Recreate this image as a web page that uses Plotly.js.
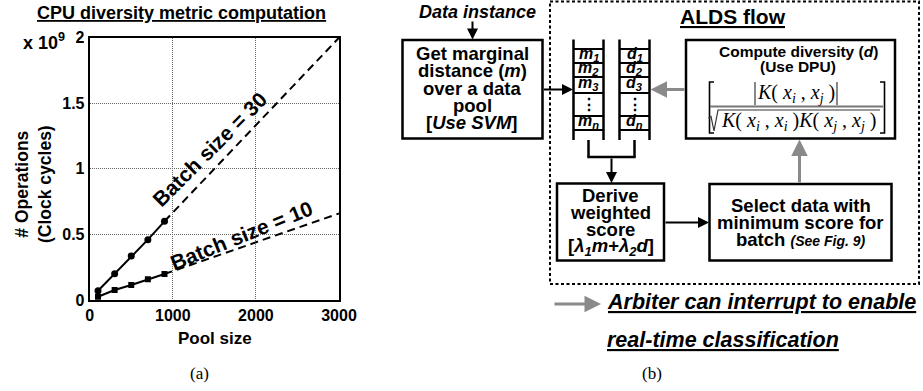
<!DOCTYPE html>
<html><head><meta charset="utf-8">
<script src="https://cdn.plot.ly/plotly-3.0.1.min.js"></script>
<style>html,body{margin:0;padding:0;background:#fff;}#chart{width:923px;height:391px;}</style>
</head><body><div id="chart"></div>
<script>
// ---- chart data (panel a) ----
const poolSize = [100, 300, 500, 700, 900];
const opsBatch30 = [0.07, 0.2, 0.335, 0.46, 0.6];
const opsBatch10 = [0.025, 0.076, 0.114, 0.158, 0.198];
const projPool = [900, 3000];
const projBatch30 = [0.6, 2.0];
const projBatch10 = [0.198, 0.66];
const xTicks = [0, 1000, 2000, 3000];
const yTicks = [0, 0.5, 1, 1.5, 2];
const yTickText = ['0', '0.5', '1', '1.5', '2'];

const W = 923, H = 391;
const SANS = 'Liberation Sans, Arial, sans-serif';
const SERIF = 'Liberation Serif, Times New Roman, serif';
const GRAY = '#8a8a8a';
function X(p){ return p / W; }
function Y(p){ return 1 - p / H; }

const traces = [
  {x: poolSize, y: opsBatch30, mode: 'lines+markers', line: {color: '#000', width: 2},
   marker: {symbol: 'circle', size: 7, color: '#000'}, hoverinfo: 'skip'},
  {x: poolSize, y: opsBatch10, mode: 'lines+markers', line: {color: '#000', width: 2},
   marker: {symbol: 'square', size: 6, color: '#000'}, hoverinfo: 'skip'},
  {x: projPool, y: projBatch30, mode: 'lines', line: {color: '#000', width: 2, dash: '8px,5px'}, hoverinfo: 'skip'},
  {x: projPool, y: projBatch10, mode: 'lines', line: {color: '#000', width: 2, dash: '8px,5px'}, hoverinfo: 'skip'}
];

function T(x, y, text, size, o){
  o = o || {};
  const f = {family: o.family || SANS, size: size, color: o.color || '#000'};
  if (o.under) f.lineposition = 'under';
  return {xref: 'paper', yref: 'paper', x: X(x), y: Y(y), text: text, showarrow: false,
    xanchor: o.xanchor || 'center', yanchor: 'middle', font: f, textangle: o.angle || 0};
}
function TD(x, y, text, size, angle){
  return {xref: 'x', yref: 'y', x: x, y: y, text: text, showarrow: false,
    xanchor: 'center', yanchor: 'middle', font: {family: SANS, size: size, color: '#000'}, textangle: angle};
}
function A(x0, y0, x1, y1, color, w){
  return {xref: 'paper', yref: 'paper', x: X(x1), y: Y(y1), ax: x0 - x1, ay: y0 - y1,
    axref: 'pixel', ayref: 'pixel', text: '', showarrow: true, arrowhead: 2, arrowsize: 1.1,
    arrowwidth: w, arrowcolor: color, standoff: 0, startstandoff: 0};
}
function R(x0, y0, x1, y1, w, dash){
  return {type: 'rect', xref: 'paper', yref: 'paper', x0: X(x0), y0: Y(y0), x1: X(x1), y1: Y(y1),
    line: {color: '#000', width: w, dash: dash || 'solid'}, fillcolor: 'rgba(0,0,0,0)'};
}
function L(x0, y0, x1, y1, w, color){
  return {type: 'line', xref: 'paper', yref: 'paper', x0: X(x0), y0: Y(y0), x1: X(x1), y1: Y(y1),
    line: {color: color || '#000', width: w}};
}
function P(pts, w, color){
  let d = '';
  pts.forEach((p, i) => { d += (i ? ' L' : 'M') + X(p[0]).toFixed(5) + ',' + Y(p[1]).toFixed(5); });
  return {type: 'path', xref: 'paper', yref: 'paper', path: d, line: {color: color || '#000', width: w}};
}

const shapes = [];
shapes.push(R(550, 1.5, 919, 284, 2, '3px,2.5px'));
shapes.push(R(402.5, 40, 542.5, 138.5, 2.5));
[573.5, 603.5, 619.5, 649.5].forEach(x => shapes.push(L(x, 39.5, x, 140, 2.5)));
[49, 63, 77, 93, 116, 130].forEach(y => { shapes.push(L(573.5, y, 603.5, y, 2)); shapes.push(L(619.5, y, 649.5, y, 2)); });
shapes.push(L(588.5, 140, 588.5, 157, 2.5));
shapes.push(L(634.5, 140, 634.5, 157, 2.5));
shapes.push(L(587.3, 157, 635.7, 157, 2.5));
shapes.push(R(557, 183.5, 664, 260.5, 2.5));
shapes.push(R(709.5, 184, 891.5, 260.5, 2.5));
shapes.push(R(686, 40, 895, 138.5, 2.5));
shapes.push(P([[714, 82], [709.5, 82], [709.5, 133], [714, 133]], 1.6));
shapes.push(P([[880, 82], [884.5, 82], [884.5, 133], [880, 133]], 1.6));
shapes.push(L(755, 82, 755, 105, 1.4, '#555'));
shapes.push(L(837, 82, 837, 105, 1.4, '#555'));
shapes.push(L(710, 106.5, 883, 106.5, 2, '#777'));
shapes.push(P([[708.5, 118], [711, 116.5], [714, 131], [718, 110], [880, 110]], 1.2, '#333'));

const annotations = [
  T(181, 13, '<b>CPU diversity metric computation</b>', 18, {under: true}),
  T(44, 41, '<b>x 10<sup>9</sup></b>', 18),
  T(33, 184, '<b># Operations<br>(Clock cycles)</b>', 17.5, {angle: -90}),
  T(215, 338, '<b>Pool size</b>', 17),
  T(199, 373, '(a)', 17, {family: SERIF}),
  TD(1440, 1.15, '<b>Batch size = 30</b>', 21, -45),
  TD(1823, 0.49, '<b>Batch size = 10</b>', 21, -22),
  T(478, 12, '<b><i>Data instance</i></b>', 18),
  T(472.5, 53, '<b>Get marginal</b>', 18.5),
  T(472.5, 70.5, '<b>distance (<i>m</i>)</b>', 18.5),
  T(472.5, 88, '<b>over a data</b>', 18.5),
  T(472.5, 105.5, '<b>pool</b>', 18.5),
  T(472.5, 122, '<b>[<i>Use SVM</i>]</b>', 18.5),
  T(733, 17, '<b>ALDS flow</b>', 21, {under: true}),
  T(588.5, 54.5, '<b><i>m<sub>1</sub></i></b>', 16),
  T(588.5, 68.5, '<b><i>m<sub>2</sub></i></b>', 16),
  T(588.5, 83, '<b><i>m<sub>3</sub></i></b>', 16),
  T(588.5, 104.5, '<b>⋮</b>', 16),
  T(588.5, 121.5, '<b><i>m<sub>n</sub></i></b>', 16),
  T(634.5, 54.5, '<b><i>d<sub>1</sub></i></b>', 16),
  T(634.5, 68.5, '<b><i>d<sub>2</sub></i></b>', 16),
  T(634.5, 83, '<b><i>d<sub>3</sub></i></b>', 16),
  T(634.5, 104.5, '<b>⋮</b>', 16),
  T(634.5, 121.5, '<b><i>d<sub>n</sub></i></b>', 16),
  T(610.5, 195, '<b>Derive</b>', 18.5),
  T(610.5, 212, '<b>weighted</b>', 18.5),
  T(610.5, 229.5, '<b>score</b>', 18.5),
  T(610.5, 247.5, '<b>[<i>λ<sub>1</sub>m</i>+<i>λ<sub>2</sub>d</i>]</b>', 18.5),
  T(800.5, 205, '<b>Select data with</b>', 18.5),
  T(800.5, 222, '<b>minimum score for</b>', 18.5),
  T(800.5, 239, '<b>batch <i><span style="font-size:14px">(See Fig. 9)</span></i></b>', 18.5),
  T(798, 51.5, '<b>Compute diversity (<i>d</i>)</b>', 15.5),
  T(798, 66.5, '<b>(Use DPU)</b>', 15.5),
  T(796, 93, '<i>K</i>( <i>x<sub>i</sub></i> , <i>x<sub>j</sub></i> )', 20, {family: SERIF}),
  T(799, 121, '<i>K</i>( <i>x<sub>i</sub></i> , <i>x<sub>i</sub></i> )<i>K</i>( <i>x<sub>j</sub></i> , <i>x<sub>j</sub></i> )', 20, {family: SERIF}),
  T(605, 302, '<b><i>Arbiter can interrupt to enable</i></b>', 21.5, {under: true, xanchor: 'left'}),
  T(605, 340, '<b><i>real-time classification</i></b>', 21.5, {under: true, xanchor: 'left'}),
  T(652, 373, '(b)', 17, {family: SERIF}),
  A(472.5, 20, 472.5, 39.5, '#000', 2),
  A(542.5, 89.5, 573, 89.5, '#000', 2),
  A(611.5, 157, 611.5, 183, '#000', 2),
  A(664, 222.5, 709, 222.5, '#000', 2),
  A(799.5, 184, 799.5, 139.5, GRAY, 3),
  A(686, 89.5, 650.5, 89.5, GRAY, 3),
  A(553, 304, 601, 304, GRAY, 3)
];

const layout = {
  width: W, height: H, margin: {l: 0, r: 0, t: 0, b: 0},
  paper_bgcolor: '#fff', plot_bgcolor: '#fff', showlegend: false,
  font: {family: SANS, color: '#000'},
  xaxis: {domain: [X(89.7), X(339)], range: [0, 3000], tickvals: xTicks, ticktext: xTicks.map(String),
    showgrid: true, gridcolor: '#666', griddash: '1px,1px', gridwidth: 1, zeroline: false,
    showline: true, mirror: true, linecolor: '#000', linewidth: 2, ticks: '',
    tickfont: {family: SANS, size: 16, color: '#000', weight: 'bold'}, fixedrange: true},
  yaxis: {domain: [Y(300), Y(37.7)], range: [0, 2], tickvals: yTicks, ticktext: yTickText,
    showgrid: true, gridcolor: '#666', griddash: '1px,1px', gridwidth: 1, zeroline: false,
    showline: true, mirror: true, linecolor: '#000', linewidth: 2, ticks: '',
    tickfont: {family: SANS, size: 16, color: '#000', weight: 'bold'}, fixedrange: true},
  shapes: shapes, annotations: annotations
};
Plotly.newPlot('chart', traces, layout, {displayModeBar: false, staticPlot: true});
</script></body></html>
